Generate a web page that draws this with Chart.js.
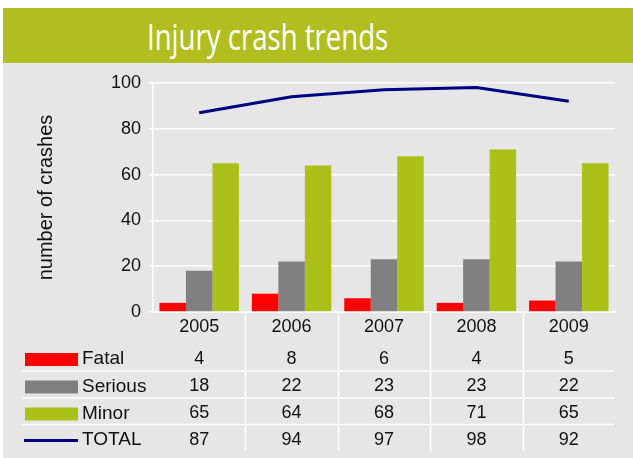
<!DOCTYPE html>
<html>
<head>
<meta charset="utf-8">
<script src="https://cdn.jsdelivr.net/npm/chart.js@4/dist/chart.umd.min.js"></script>
<style>
  html, body { margin: 0; padding: 0; background: #ffffff; }
  #wrap { position: relative; width: 633px; height: 458px; overflow: hidden; }
  #titlebar { position: absolute; left: 3px; top: 8px; width: 630px; height: 55px; background: #b0bf1f; }
  #titletext { position: absolute; left: 147px; top: 17px; font-family: "Open Sans", sans-serif; font-weight: 400; font-size: 37px; line-height: 37px; color: #ffffff; white-space: nowrap; transform: scaleX(0.745); transform-origin: 0 0; }
  #panel { position: absolute; left: 3px; top: 63px; width: 630px; height: 395px; background: #e6e6e6; }
  canvas { position: absolute; left: 0; top: 0; }
</style>
</head>
<body>
<div id="wrap">
  <div id="titlebar"></div>
  <div id="titletext">Injury crash trends</div>
  <div id="panel"></div>
  <canvas id="c" width="633" height="458"></canvas>
</div>
<script>
const years = ['2005', '2006', '2007', '2008', '2009'];
const fatal = [4, 8, 6, 4, 5];
const serious = [18, 22, 23, 23, 22];
const minor = [65, 64, 68, 71, 65];
const total = [87, 94, 97, 98, 92];
const yTicks = [0, 20, 40, 60, 80, 100];

const FONT = '"Liberation Sans", Arial, sans-serif';

const tablePlugin = {
  id: 'dataTable',
  afterDraw(chart) {
    const ctx = chart.ctx;
    const xs = chart.scales.x;
    const n = chart.data.labels.length;
    const centers = chart.data.labels.map((_, i) => xs.getPixelForValue(i));
    const rowY = [358, 385.5, 412.5, 439];
    const lineY = [371, 398, 424.5];
    ctx.save();
    ctx.strokeStyle = '#ffffff';
    ctx.lineWidth = 1.5;
    for (let i = 0; i < n - 1; i++) {
      const bx = Math.round((centers[i] + centers[i + 1]) / 2) + 0.5;
      ctx.beginPath();
      ctx.moveTo(bx, 313);
      ctx.lineTo(bx, 451);
      ctx.stroke();
    }
    lineY.forEach(y => {
      ctx.beginPath();
      ctx.moveTo(22, y);
      ctx.lineTo(614, y);
      ctx.stroke();
    });
    ctx.textBaseline = 'middle';
    chart.data.datasets.forEach((ds, r) => {
      const y = rowY[r];
      if (ds.type === 'line') {
        ctx.strokeStyle = ds.borderColor;
        ctx.lineWidth = 3;
        ctx.beginPath();
        ctx.moveTo(24, y + 1.5);
        ctx.lineTo(78, y + 1.5);
        ctx.stroke();
      } else {
        ctx.fillStyle = ds.backgroundColor;
        ctx.fillRect(25, y - 5, 53, 13);
      }
      ctx.fillStyle = '#111111';
      ctx.textAlign = 'left';
      ctx.font = '19px ' + FONT;
      ctx.fillText(ds.label, 82, y + 1);
      ctx.font = '18px ' + FONT;
      ctx.textAlign = 'center';
      ds.data.forEach((v, i) => ctx.fillText(String(v), centers[i], y + 1));
    });
    ctx.restore();
  }
};

new Chart(document.getElementById('c'), {
  type: 'bar',
  data: {
    labels: years,
    datasets: [
      { label: 'Fatal', data: fatal, backgroundColor: '#ff0000', order: 2 },
      { label: 'Serious', data: serious, backgroundColor: '#808080', order: 2 },
      { label: 'Minor', data: minor, backgroundColor: '#abc11a', order: 2 },
      { type: 'line', label: 'TOTAL', data: total, borderColor: '#000080', backgroundColor: '#000080', borderWidth: 3, pointRadius: 0, tension: 0, order: 1 }
    ]
  },
  options: {
    responsive: false,
    animation: false,
    devicePixelRatio: 1,
    layout: { padding: { left: 0, top: 83, right: 18, bottom: 0 } },
    datasets: { bar: { categoryPercentage: 0.86, barPercentage: 1.0 } },
    plugins: { legend: { display: false }, tooltip: { enabled: false }, title: { display: false } },
    scales: {
      x: {
        grid: { display: false, drawTicks: false },
        border: { display: true, color: '#ffffff', width: 1.5 },
        ticks: { color: '#111111', font: { family: FONT, size: 18 }, padding: 4, maxRotation: 0 },
        afterFit(scale) { scale.height = 146; }
      },
      y: {
        min: 0, max: 100,
        afterBuildTicks(scale) { scale.ticks = yTicks.map(v => ({ value: v })); },
        grid: { color: '#ffffff', lineWidth: 1.5, drawTicks: true, tickLength: 4, tickColor: '#ffffff' },
        border: { display: true, color: '#ffffff', width: 1.5 },
        ticks: { color: '#111111', font: { family: FONT, size: 18 }, padding: 8 },
        title: { display: true, text: 'number of crashes', color: '#111111', font: { family: FONT, size: 20 }, padding: { top: 34, bottom: 0 } },
        afterFit(scale) { scale.width = 153; }
      }
    }
  },
  plugins: [tablePlugin]
});
</script>
</body>
</html>
